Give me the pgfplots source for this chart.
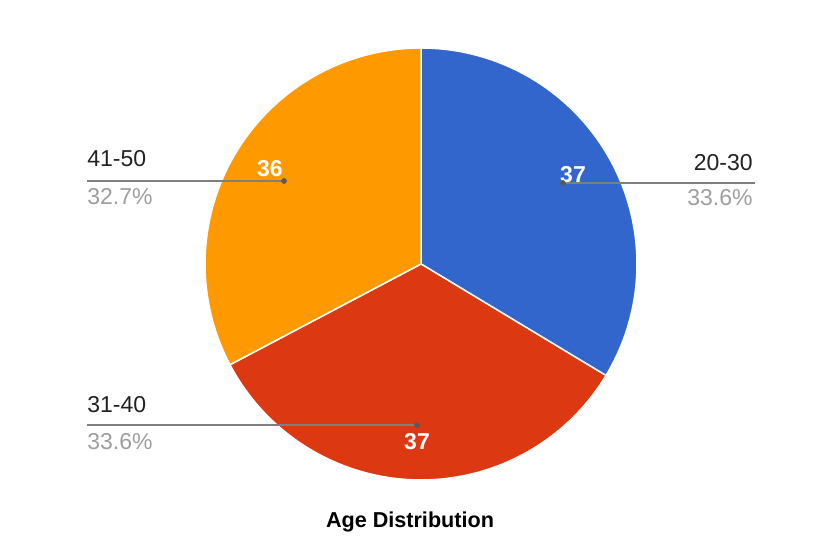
\documentclass[border=0pt]{standalone}
\usepackage{fontspec}
\setmainfont{Liberation Sans}
\usepackage{pgfplots}
\usepackage{pgfplotstable}
\pgfplotsset{compat=1.18}
\definecolor{gblue}{HTML}{3366CC}
\definecolor{gred}{HTML}{DC3912}
\definecolor{gorange}{HTML}{FF9900}
\definecolor{lbl}{HTML}{222222}
\definecolor{pctgray}{HTML}{9E9E9E}
\definecolor{leader}{HTML}{7F7F7F}

\pgfplotstableread{
label value pct
20-30 37 33.6
31-40 37 33.6
41-50 36 32.7
}\agedata

\tikzset{
  side/.style={font=\fontsize{11.5}{13}\selectfont, inner sep=0pt},
  val/.style={white, font=\fontsize{11.5}{13}\selectfont\bfseries, anchor=base, inner sep=0pt},
}

\begin{document}
\begin{tikzpicture}
\pgfplotstablegetelem{0}{value}\of\agedata \let\va\pgfplotsretval
\pgfplotstablegetelem{1}{value}\of\agedata \let\vb\pgfplotsretval
\pgfplotstablegetelem{2}{value}\of\agedata \let\vc\pgfplotsretval
% slices run clockwise from 12 o'clock
\pgfmathsetmacro\tot{\va+\vb+\vc}
\pgfmathsetmacro\aA{90-360*\va/\tot}
\pgfmathsetmacro\aB{\aA-360*\vb/\tot}
\pgfmathsetmacro\aC{\aB-360*\vc/\tot}
\def\cx{421}\def\cy{285}\def\rr{216}
\begin{axis}[
    width=415pt, height=274.5pt, scale only axis,
    xmin=0, xmax=830, ymin=0, ymax=549,
    hide axis, clip=false,
  ]
  \path (rel axis cs:0,0) rectangle (rel axis cs:1,1);
  \addplot[fill=gblue, draw=white, line width=0.75pt, domain=\aA:90, samples=80, variable=\t]
    ({\cx+\rr*cos(\t)},{\cy+\rr*sin(\t)}) -- (axis cs:\cx,\cy) -- cycle;
  \addplot[fill=gred, draw=white, line width=0.75pt, domain=\aB:\aA, samples=80, variable=\t]
    ({\cx+\rr*cos(\t)},{\cy+\rr*sin(\t)}) -- (axis cs:\cx,\cy) -- cycle;
  \addplot[fill=gorange, draw=white, line width=0.75pt, domain=\aC:\aB, samples=80, variable=\t]
    ({\cx+\rr*cos(\t)},{\cy+\rr*sin(\t)}) -- (axis cs:\cx,\cy) -- cycle;

  % leader lines
  \addplot[leader, line width=0.6pt] coordinates {(563,366) (755,366)};
  \addplot[leader, line width=0.6pt] coordinates {(87,368) (284,368)};
  \addplot[leader, line width=0.6pt] coordinates {(87,124) (417,124)};
  \addplot[only marks, mark=*, mark size=1.2pt, color=black!65] coordinates {(563,366) (284,368) (417,124)};

  % value labels
  \node[val] at (axis cs:573,366) {37};
  \node[val] at (axis cs:270,372) {36};
  \node[val] at (axis cs:417,99) {37};

  % outside labels
  \node[side, lbl, anchor=base east] at (axis cs:753,378) {20-30};
  \node[side, pctgray, anchor=base east] at (axis cs:753,343) {33.6\%};
  \node[side, lbl, anchor=base west] at (axis cs:87,382) {41-50};
  \node[side, pctgray, anchor=base west] at (axis cs:87,344) {32.7\%};
  \node[side, lbl, anchor=base west] at (axis cs:87,136) {31-40};
  \node[side, pctgray, anchor=base west] at (axis cs:87,99) {33.6\%};

  \node[black, font=\fontsize{10.8}{13}\selectfont\bfseries, anchor=base] at (axis cs:410,21) {Age Distribution};
\end{axis}
\end{tikzpicture}
\end{document}
